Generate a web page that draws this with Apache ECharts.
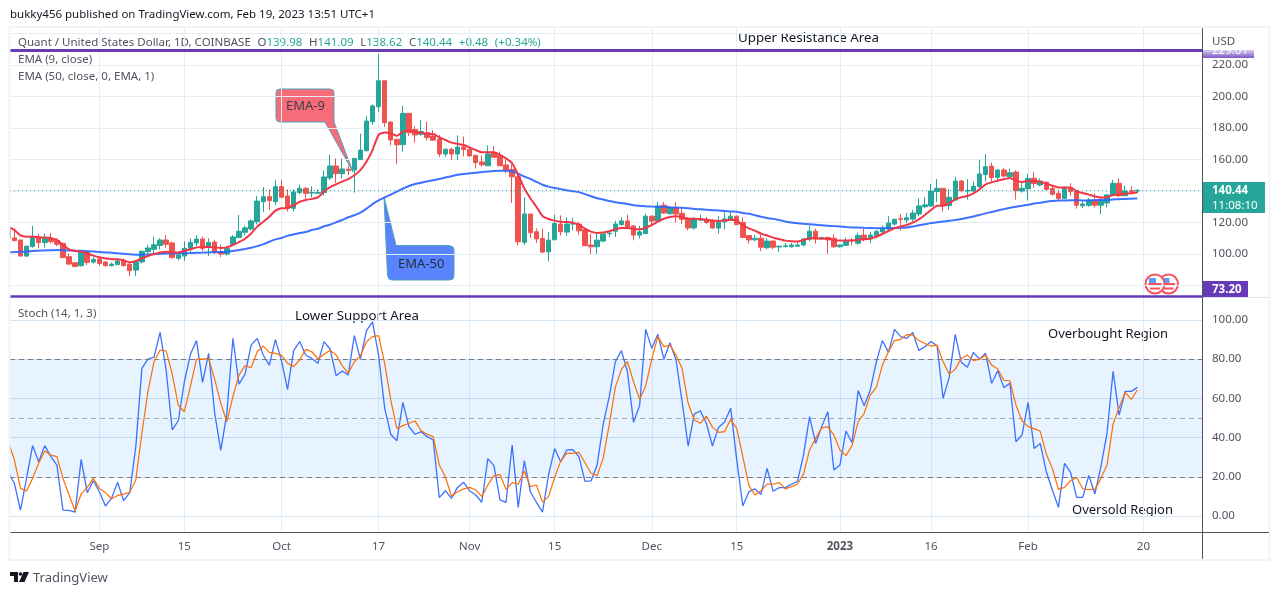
<!DOCTYPE html>
<html>
<head>
<meta charset="utf-8">
<title>Quant / United States Dollar</title>
<script src="https://cdn.jsdelivr.net/npm/echarts@6/dist/echarts.min.js"></script>
<style>
  html, body { margin: 0; padding: 0; background: #fff; }
  #main { width: 1280px; height: 595px; }
</style>
</head>
<body>
<div id="main"></div>
<script>
// daily candles, first entry is 17 Aug 2022 and it sits mostly behind the left edge
var firstDay = Date.UTC(2022, 7, 17);
var DAY = 86400000;

var opens = [116,
  110.2,108.9,98.7,104.7,110.6,107.2,110,108.5,106.8,98.3,
  94.5,92.6,101.1,94.9,96.8,94.9,92.6,93.2,95.6,93.6,
  89.8,95,101.5,103,105.4,108.9,107,97.3,98.7,103.6,
  107,109.5,104.7,107.6,101.5,100,106.2,110.4,113.8,115.9,
  120.5,133.2,136.4,133.2,142.8,136.8,129,139,141.7,138.7,
  138.6,139,148.3,155.9,151,153.8,153.3,160,165.6,184,
  193.5,210,183.8,172.8,169.4,189.3,179,176,177,174.9,
  173,163.5,166.5,163.5,167.9,166.5,162.6,158.4,156,164,
  162.6,156.5,153.7,149,107.4,125.4,114.1,109.9,101.4,109,
  119,113.9,119,119,115.4,105.7,104.6,108.2,112.8,114.5,
  118.7,121,117.8,112,113,124,120.9,131,125.6,129.5,
  125.8,122.6,116.5,121.5,122,121,116.5,120.4,121.6,124,
  120,111.7,109,110,104,108.2,104.5,104.8,104.6,105,
  105.7,109.3,114.5,110,110.4,110,104.6,105.5,108.8,106.8,
  112,109.7,111.4,114,115.9,119,122.4,121.6,122.2,125.4,
  130,130.5,139.6,141.7,130.7,134.3,146.3,140,140,142.7,
  150.4,155.8,148.7,153.3,149,152,140,141.5,148,143.8,
  145.5,141.7,138.5,135.3,142.3,140.2,130.6,130.9,134.3,131,
  132.4,137.5,144.9,137,140.2,139.98];
var closes = [110,
  108.5,98.7,105,110.6,107.2,110,107.8,106.2,97.7,93.6,
  92,101.5,94.7,96.6,94,92.6,93.6,95.6,92.6,89.4,
  95,101.7,103.8,105.8,108.9,106.2,97.7,99.4,103.6,107.4,
  109.5,103.6,107.4,101,100,103.6,110.8,114.4,116.6,121,
  133.6,136.4,133.9,142.8,136,129,139.4,141.7,138.5,139,
  139,148.9,155.9,151,154,153,160.7,166,184.4,194,
  210,183.4,172.4,169.4,189.3,177,175.6,177.7,174,172.3,
  163.5,166.5,163.5,167.9,166.3,162.3,158,156.6,163.5,161.4,
  156,153.3,149,107.8,125.4,113.5,109.6,101.2,108.8,119.4,
  114.1,119,119.4,114.7,105.3,104.6,108.8,112.7,113.2,119,
  121,117.2,112,114,124,120.9,130.4,126,129.5,125.4,
  122,116.5,122,122,120,116.5,120.5,122.3,124,118.6,
  110.5,108.9,110,104.3,108.2,104.3,105,105.2,105.7,105.7,
  109.5,114.5,109.5,110.4,108.9,104.6,105.7,108.4,108.4,111.8,
  109.3,112,114.4,116.3,119.7,122,122,123,126,130.5,
  131.2,140,141.7,130.7,136,146.3,140.2,140.4,143,150.8,
  155.4,148.5,153.3,149.5,151.6,140.2,141.7,148,144.7,146.3,
  141,138,135.3,142.3,139.6,131,131.8,134.3,131,133.6,
  137.5,144.9,137,140,139.2,140.44];
var highs = [118,
  116.3,109,105.2,117.8,113,113,113.5,110,107,100.4,
  94.8,102,102,98,97.5,95.5,94.5,96.5,97,94,
  96,102,106,111,110,112,108,100,108,110,
  112,111,110,109,106,105,112,124.8,118,122,
  136.8,142.5,141,147,147,141,141,144,142.5,143,
  141,153,163,160.7,160.6,156,161,176.5,187.5,195,
  227,210,184,173,194,189.5,181,185,184,178.7,
  175.6,167,167.5,175.4,174.7,167.5,163,162.5,169,168.5,
  165,160,157,152,136,125.4,116.2,116,114,125,
  124.5,123.2,123,120.4,116,113,113,113,115,121,
  123.5,125,118.5,118,125.5,124.5,133,133,130,133,
  129,123.5,123.5,125,123.5,122,124,126.5,127,124.5,
  123.3,112,112,112.5,110,108.5,105,107,107,107.5,
  110,118,116,111,111,112.5,106,110.5,110,113.5,
  115.9,114,115,118,124,122.5,125.4,126,128,135.3,
  136,144.5,147.6,142,141.5,149,147,147.5,146,159.7,
  163.5,158,154,154.5,154,153,146,151,152,148,
  146,143,140,143,145,140.5,133.5,135.5,138.5,136,
  138,147,148,143.5,143,141.09];
var lows = [109,
  108,98.5,98,104,103.6,104,106.8,105,97.5,93,
  92,92,93,94,92.5,92,92,93,92,86,
  86,94,100,100,103,104,97,96,95.6,101,
  105,102,98.7,100,98,99,106,110,112,115,
  119,126.6,128,131,136,127,127,138,134,136,
  138,137,147,145,148,150,139,160,165,182,
  190,180.7,169,157,165,175,170.7,175,172,172,
  161.6,161.6,159.6,159.6,162,162,154.3,155.5,156,161,
  156,151.3,132.5,105.6,105.6,110.2,107,100.5,95.3,109,
  111.8,111.5,115,112.3,105,100,100.2,107.5,110.5,110.8,
  118,117,108.7,109.8,112.5,118.5,120,125.5,125,120,
  119,115,115.5,121,119,116,113,115.7,121,118.5,
  110,106.5,108,101.8,103,103,101.2,104,104,104.5,
  105,108,106.5,109.5,100.2,104,104,105,105.5,106,
  108,107,110,113,115,118,114.9,119.5,120.5,124,
  129,130,133,127,128,134,139,134.6,139,142,
  146,146,145.5,149,148,134.5,139,134,142,143,
  140,137,134.5,135,137,128.8,129,130,129.5,125.4,
  129.5,137,136,136.5,138,138.62];

var ema9 = [117.4,
  115.2,111.8,111,111,110.6,110.4,110,108.9,105.7,103,
  101.9,101.5,100.4,99,97.9,97.2,96.8,96.6,96,94.7,
  95.6,97.2,98.7,100,101,101.5,101,101,101.9,103,
  104.2,104.4,104.4,104.2,103.8,104.2,105.7,107.6,109.7,113,
  117.4,120.5,123.7,127.5,129,129.2,131,133.2,134.3,135,
  136,139.6,142.5,144.2,146,147.6,150,153.3,158.6,166,
  175.6,177.2,176.6,175,177.7,178.3,177.7,177,176.2,176.2,
  174,172.4,170.7,170,169.2,167.7,166,164.6,164.6,164.6,
  162.9,160.7,157.6,150.2,141.7,135.4,130,124.1,122.2,121.2,
  120.5,120.3,119.9,118.6,116.1,114.2,113.4,113.6,114.4,115.7,
  116.5,116.5,115.9,115.7,116.7,118.4,120.5,122.4,123.5,123.9,
  123.3,122.4,122.4,122.2,121.6,121.2,121,121.2,121.8,121.2,
  118.4,116.3,114.8,112.9,111.7,110.4,109.4,108.5,108.1,107.9,
  108.9,110,110,109.7,110,108.7,108.5,108.5,108.5,109.1,
  109.3,109.7,111,112.7,114.6,116.3,117.4,118.4,119.9,122,
  124.8,127.9,130.7,130.7,132.2,134.7,136,136.8,138.5,141,
  144.2,145.5,146.6,147.4,148.3,146.6,145.7,146.3,146.3,145.9,
  144.7,143.4,142.3,142.3,142.3,139.8,138.7,137.7,136.6,135.8,
  136,137.5,137.7,138.3,138.5,139.2];
var ema50 = [101.1,
  101.2,101.4,101.6,101.9,102.1,102.3,102.4,102.5,102.4,102.2,
  102.1,102,101.8,101.6,101.3,101,100.8,100.5,100.2,99.8,
  99.6,99.6,99.7,99.9,100.1,100.3,100.3,100.4,100.5,100.6,
  100.8,100.9,101,101.1,101.2,101.5,101.9,102.5,103.2,104,
  105,106.1,107.8,109.3,110.2,111.6,112.5,113.3,114,115.2,
  116,117.6,118.6,120.1,121.6,123.3,124.6,126.2,128.8,131.7,
  134,136,137.7,139.6,141.5,143.2,144.4,145.3,146.1,146.8,
  147.6,148.6,149.4,150.3,150.8,151.2,151.6,152,152.4,152.7,
  152.8,152.8,152.5,151,149.2,147.7,145.8,144,142.8,141.9,
  141.2,140.5,139.9,139.3,138,136.7,135.4,134.6,133.6,132.9,
  132.4,131.8,131,130.6,130.3,130.1,130,130,129.7,129.5,
  129.3,129,128.6,128.4,128.1,127.8,127.6,127.3,127,126.8,
  126.1,125.5,124.6,123.7,122.9,122.3,121.5,120.7,120,119.6,
  119.2,118.9,118.6,118.2,118,117.7,117.4,117.1,116.9,116.8,
  116.6,116.5,116.4,116.4,116.4,116.5,116.6,116.9,117.5,118.2,
  118.9,119.6,120.1,120.6,121.1,121.6,122.2,123,123.8,124.8,
  125.8,126.7,127.6,128.5,129.3,130,130.6,131.3,132,132.6,
  133.2,133.6,133.9,134,134.1,134.1,134,134,134.2,134.3,
  134.4,134.6,134.8,135,135.1,135.3];

var stochK = [22,
  16.7,3,19.2,35.9,27.7,35.9,30.3,26,3,2.9,
  2,28.9,11.9,18,12.4,5.1,9,17.2,7.8,11.9,
  35.4,75.3,80,81,93.7,74.5,43.9,48.6,68.5,82.5,
  89.5,68.2,83,52.4,33.5,52.4,90.6,67.2,72.4,87.2,
  90.6,82,77,90,79.3,64.6,84.4,89,82,80.4,
  77.9,89,85.2,71.6,74,72,92,80,94.6,99,
  82,55,41.7,38.3,58,45.6,41.7,43,40.5,38.8,
  9.4,12.9,9,14.6,17.2,12.9,10.7,7,29.3,25.7,
  8.2,7,36.2,4.4,28.2,12.4,7,2,21,34.4,
  27.7,33.7,33.8,30.3,17.7,17.9,26,46.8,60.9,78.7,
  84.4,73.6,47.8,56.3,95.2,85.5,92.7,80,88.4,79.6,
  58.3,35.7,52,53.7,47.3,35.7,45.2,48,55,28.6,
  5.1,12.4,13.8,11,24.3,12.6,14.5,14.5,16.2,17.5,
  31.1,50.7,37,45.6,53.2,23.5,26,43.4,37.4,64,
  56.3,64.3,78.7,89.5,83.5,95.2,91.5,90.6,93.7,84.4,
  86.4,89,86.9,60,70.7,92.7,78.4,75.9,83.5,80,
  83,67.7,74.1,65.5,67.7,37.9,41.3,58,34.5,37,
  22.6,13.3,4.4,26.9,22.3,9.5,9.5,20.7,11.2,25.2,
  42.2,73.8,51.5,63.6,63.6,65.6];
var stochD = [37.9,
  28.6,14.1,12.8,19.2,26.9,33.2,31.1,30.3,19.2,10.7,
  2.7,11.2,14.6,19.2,14.1,11.9,8.8,10.5,11.2,12.1,
  18.4,42.2,63.4,78.7,84.7,84.2,72.4,56.5,53.2,66.3,
  80,80,80.4,69.7,57.5,48.1,60.9,71.9,76.7,75.7,
  83.8,86.7,83.5,83,82.1,77.9,76.2,79.6,85,83.8,
  80.1,82.5,84.4,82.1,76.7,72.8,78.7,81.6,88.9,91.5,
  92,77.9,59.2,44.7,46.1,47.3,48.5,43.5,41.7,40.5,
  26,20,10.2,12.4,13.8,14.6,13.3,9.9,15.8,20.6,
  21.1,13.6,17,16.2,23,15,15.8,7.1,9.9,19.7,
  28,32,32,32.5,27.2,21.8,20.6,29.4,46.8,65.6,
  74.8,78.7,68.5,59.5,66.3,80,91.5,86.4,87.2,82.1,
  75.3,57.5,49,47.3,51,45.2,42.7,43,49.3,44.7,
  30.3,15.6,10.7,12.9,16.3,16.2,17,13.8,15,16.2,
  21.4,33.7,39.6,45,45.6,41.3,33.7,30.8,35.9,48.1,
  52.4,61.7,65.6,77,83.8,89.5,90.1,92.5,92.3,89.5,
  88,86.7,87.2,78.7,72.4,74.8,80.4,82.1,79.3,80,
  82.1,77,75,69.2,69,56.6,48.6,45.6,44.6,43.2,
  31.6,24.3,13.6,14.6,18,19.6,13.9,13.4,13.6,19.2,
  26,46.9,55.4,63.1,59.5,64.3];

// x axis stops: [year, month, day, label]
var timeTicks = [
  [2022, 8, 1, 'Sep'], [2022, 8, 15, '15'], [2022, 9, 1, 'Oct'], [2022, 9, 17, '17'],
  [2022, 10, 1, 'Nov'], [2022, 10, 15, '15'], [2022, 11, 1, 'Dec'], [2022, 11, 15, '15'],
  [2023, 0, 1, '2023'], [2023, 0, 16, '16'], [2023, 1, 1, 'Feb'], [2023, 1, 20, '20']
];
var priceGrid = [80, 100, 120, 140, 160, 180, 200, 220, 240];
var priceLabels = [100, 120, 160, 180, 200, 220]; // 140 sits behind the last price tag
var stochTicks = [0, 20, 40, 60, 80, 100];
var resistance = 229.61;
var support = 73.2;
var lastPrice = 140.44;

var UP = '#26a69a', DOWN = '#ef5350', PURPLE = '#673ab7', TXT = '#50535e', GRID = '#e3edf3', INK = '#131722';
var FONT = '"Noto Sans", sans-serif';
var LABEL_SIZE = 11.5;

// x axis runs in days counted from firstDay
var tickDays = timeTicks.map(function (t) { return Math.round((Date.UTC(t[0], t[1], t[2]) - firstDay) / DAY); });
var tickNames = {};
timeTicks.forEach(function (t, i) { tickNames[tickDays[i]] = t[3]; });
function line(arr) { return arr.map(function (v, i) { return [i, v]; }); }

var xMin = 0.275, xMax = 196.65;
var chart = echarts.init(document.getElementById('main'), null, { renderer: 'canvas' });

function dashed(value, color) {
  return { yAxis: value, lineStyle: { color: color, type: [5, 4], width: 1 } };
}
function txt(x, y, text, color, size) {
  return { type: 'text', x: x, y: y, silent: true, style: { text: text, fill: color || TXT, font: (size || LABEL_SIZE) + 'px ' + FONT, textVerticalAlign: 'middle' } };
}
function box(x, y, w, h, color) {
  return { type: 'rect', silent: true, shape: { x: x, y: y, width: w, height: h }, style: { fill: color } };
}
function poly(points, fill, stroke) {
  return { type: 'polygon', silent: true, shape: { points: points }, style: { fill: fill, stroke: stroke || 'none', lineWidth: 1 } };
}
function flag(cx, cy) {
  return [
    { type: 'circle', silent: true, shape: { cx: cx, cy: cy, r: 9.5 }, style: { fill: '#fff', stroke: '#f7525f', lineWidth: 2 } },
    box(cx - 6.5, cy - 1, 13, 2.5, '#f7525f'),
    box(cx - 5, cy + 3.5, 10, 2, '#f7525f'),
    box(cx - 6, cy - 6, 7, 5, '#5b9cf6')
  ];
}

chart.setOption({
  animation: false,
  backgroundColor: '#fff',
  grid: [
    { left: 10, right: 78, top: 28, height: 269 },
    { left: 10, right: 78, top: 297, height: 235 }
  ],
  xAxis: [
    { type: 'value', gridIndex: 0, min: xMin, max: xMax, axisLine: { show: false },
      axisTick: { show: false, customValues: tickDays }, axisLabel: { show: false },
      splitLine: { show: true, lineStyle: { color: GRID, width: 1 } } },
    { type: 'value', gridIndex: 1, min: xMin, max: xMax,
      axisLine: { show: true, onZero: false, lineStyle: { color: TXT, width: 1 } },
      axisTick: { show: false, customValues: tickDays },
      axisLabel: { show: true, customValues: tickDays, color: TXT, fontFamily: FONT, fontSize: LABEL_SIZE, margin: 9, hideOverlap: false,
        formatter: function (v) { var s = tickNames[v]; return s === '2023' ? '{b|2023}' : s; },
        rich: { b: { fontWeight: 'bold', color: TXT, fontFamily: FONT, fontSize: LABEL_SIZE } } },
      splitLine: { show: true, lineStyle: { color: GRID, width: 1 } } }
  ],
  yAxis: [
    { type: 'value', gridIndex: 0, position: 'right', min: 72.7, max: 243.49,
      axisLine: { show: true, lineStyle: { color: TXT, width: 1 } },
      axisTick: { show: false, customValues: priceGrid },
      axisLabel: { customValues: priceLabels, color: TXT, fontFamily: FONT, fontSize: LABEL_SIZE, margin: 10, formatter: function (v) { return v.toFixed(2); } },
      splitLine: { show: true, lineStyle: { color: GRID, width: 1 } } },
    { type: 'value', gridIndex: 1, position: 'right', min: -8.16, max: 111.73,
      axisLine: { show: true, lineStyle: { color: TXT, width: 1 } },
      axisTick: { show: false, customValues: stochTicks },
      axisLabel: { customValues: stochTicks, color: TXT, fontFamily: FONT, fontSize: LABEL_SIZE, margin: 10, formatter: function (v) { return v.toFixed(2); } },
      splitLine: { show: true, lineStyle: { color: '#d3e5f3', width: 1 } } }
  ],
  series: [
    { type: 'candlestick', xAxisIndex: 0, yAxisIndex: 0, barWidth: 5, encode: { x: 0, y: [1, 2, 3, 4] },
      data: opens.map(function (o, i) { return [i, o, closes[i], lows[i], highs[i]]; }),
      itemStyle: { color: UP, color0: DOWN, borderColor: UP, borderColor0: DOWN, borderWidth: 1 },
      markLine: { silent: true, symbol: 'none', label: { show: false }, animation: false, data: [
        { yAxis: resistance, lineStyle: { color: PURPLE, width: 3, type: 'solid' } },
        { yAxis: support, lineStyle: { color: PURPLE, width: 2.5, type: 'solid' } },
        { yAxis: lastPrice, lineStyle: { color: UP, width: 1, type: [1, 3] } }
      ] } },
    { type: 'line', name: 'EMA 9', xAxisIndex: 0, yAxisIndex: 0, data: line(ema9), showSymbol: false, smooth: 0.2, lineStyle: { color: '#f23645', width: 2 }, z: 4 },
    { type: 'line', name: 'EMA 50', xAxisIndex: 0, yAxisIndex: 0, data: line(ema50), showSymbol: false, smooth: 0.2, lineStyle: { color: '#2962ff', width: 2, opacity: 0.9 }, z: 3 },
    { type: 'line', name: '%K', xAxisIndex: 1, yAxisIndex: 1, data: line(stochK), showSymbol: false, lineStyle: { color: '#2962ff', width: 1.3, opacity: 0.9 }, z: 4,
      markArea: { silent: true, itemStyle: { color: 'rgba(33,150,243,0.11)' }, data: [[{ yAxis: 20 }, { yAxis: 80 }]] },
      markLine: { silent: true, symbol: 'none', label: { show: false }, animation: false, data: [
        dashed(80, '#787b86'), dashed(50, 'rgba(120,123,134,0.6)'), dashed(20, '#787b86')
      ] } },
    { type: 'line', name: '%D', xAxisIndex: 1, yAxisIndex: 1, data: line(stochD), showSymbol: false, lineStyle: { color: '#ff6d00', width: 1.2 }, z: 5 }
  ],
  graphic: [].concat(
    [
      // hide what spills past the left edge of the panes
      { type: 'rect', silent: true, z: 50, shape: { x: 0, y: 27, width: 9.5, height: 533 }, style: { fill: '#fff' } },
      { type: 'rect', silent: true, z: 51, shape: { x: 9.5, y: 27, width: 1260, height: 533 }, style: { fill: 'none', stroke: '#f0f3fa', lineWidth: 2 } },
      { type: 'line', silent: true, z: 52, shape: { x1: 1202.5, y1: 532, x2: 1202.5, y2: 559 }, style: { stroke: TXT, lineWidth: 1 } },
      { type: 'line', silent: true, z: 52, shape: { x1: 1202, y1: 532.5, x2: 1269, y2: 532.5 }, style: { stroke: TXT, lineWidth: 1 } },
      { type: 'line', silent: true, shape: { x1: 1203, y1: 297.5, x2: 1269, y2: 297.5 }, style: { stroke: '#e0e3eb', lineWidth: 1 } },
      txt(10, 15, 'bukky456 published on TradingView.com, Feb 19, 2023 13:51 UTC+1', INK),
      {
        type: 'text', x: 18, y: 43, silent: true,
        style: {
          text: '{n|Quant / United States Dollar, 1D, COINBASE}  {n|O}{v|139.98}  {n|H}{v|141.09}  {n|L}{v|138.62}  {n|C}{v|140.44}  {v|+0.48}  {v|(+0.34%)}',
          rich: { n: { fill: TXT, font: LABEL_SIZE + 'px ' + FONT }, v: { fill: UP, font: LABEL_SIZE + 'px ' + FONT } },
          textVerticalAlign: 'middle'
        }
      },
      txt(18, 60, 'EMA (9, close)'),
      txt(18, 77, 'EMA (50, close, 0, EMA, 1)'),
      txt(18, 314, 'Stoch (14, 1, 3)'),
      txt(738, 38, 'Upper Resistance Area', INK, 13.3),
      txt(295, 316, 'Lower Support Area', INK, 13.3),
      txt(1048, 334, 'Overbought Region', INK, 13),
      txt(1072, 510, 'Oversold Region', INK, 13),
      // callouts
      poly([[280, 89], [330, 89], [333, 90], [334, 93], [334, 122], [353, 172], [325, 122], [280, 122], [277, 121], [276, 118], [276, 93], [277, 90]], 'rgba(246,82,96,0.85)', '#4f9fb5'),
      txt(286, 106, 'EMA-9', '#3b3f4a', 13),
      poly([[384, 197], [396, 245.5], [449, 245.5], [453, 247], [454, 250], [454, 275], [453, 279], [449, 280], [392, 280], [389, 279], [387.5, 275]], 'rgba(41,98,255,0.78)', '#4f9fb5'),
      txt(398, 264, 'EMA-50', '#2a2e39', 13),
      // value tags on the price scale, the top one is half hidden under the USD strip
      { type: 'rect', silent: true, shape: { x: 1203, y: 50, width: 51, height: 8 }, style: { fill: { type: 'linear', x: 0, y: 0, x2: 0, y2: 1, colorStops: [{ offset: 0, color: '#d9cef0' }, { offset: 1, color: '#7e57c2' }] } } },
      { type: 'text', x: 1212, y: 51, silent: true, style: { text: resistance.toFixed(2), fill: '#fff', font: LABEL_SIZE + 'px ' + FONT, textVerticalAlign: 'middle' } },
      box(1203, 38, 60, 12, '#fff'),
      txt(1212, 42, 'USD'),
      box(1203, 182, 62, 31, UP),
      { type: 'text', x: 1212, y: 191, silent: true, style: { text: lastPrice.toFixed(2), fill: '#fff', font: 'bold ' + LABEL_SIZE + 'px ' + FONT, textVerticalAlign: 'middle' } },
      { type: 'text', x: 1212, y: 205.5, silent: true, style: { text: '11:08:10', fill: '#fff', font: LABEL_SIZE + 'px ' + FONT, textVerticalAlign: 'middle' } },
      box(1203, 281, 45, 16, PURPLE),
      { type: 'text', x: 1212, y: 289.5, silent: true, style: { text: support.toFixed(2), fill: '#fff', font: 'bold ' + LABEL_SIZE + 'px ' + FONT, textVerticalAlign: 'middle' } },
      // footer logo
      poly([[10, 572], [18, 572], [18, 582], [14, 582], [14, 576], [10, 576]], INK),
      poly([[19, 582], [23.5, 572], [29, 572], [24.5, 582]], INK),
      { type: 'circle', silent: true, shape: { cx: 20.5, cy: 574, r: 1.8 }, style: { fill: INK } },
      txt(33, 578, 'TradingView', '#50535e', 13)
    ],
    flag(1168.5, 284),
    flag(1155, 284)
  )
});
</script>
</body>
</html>
